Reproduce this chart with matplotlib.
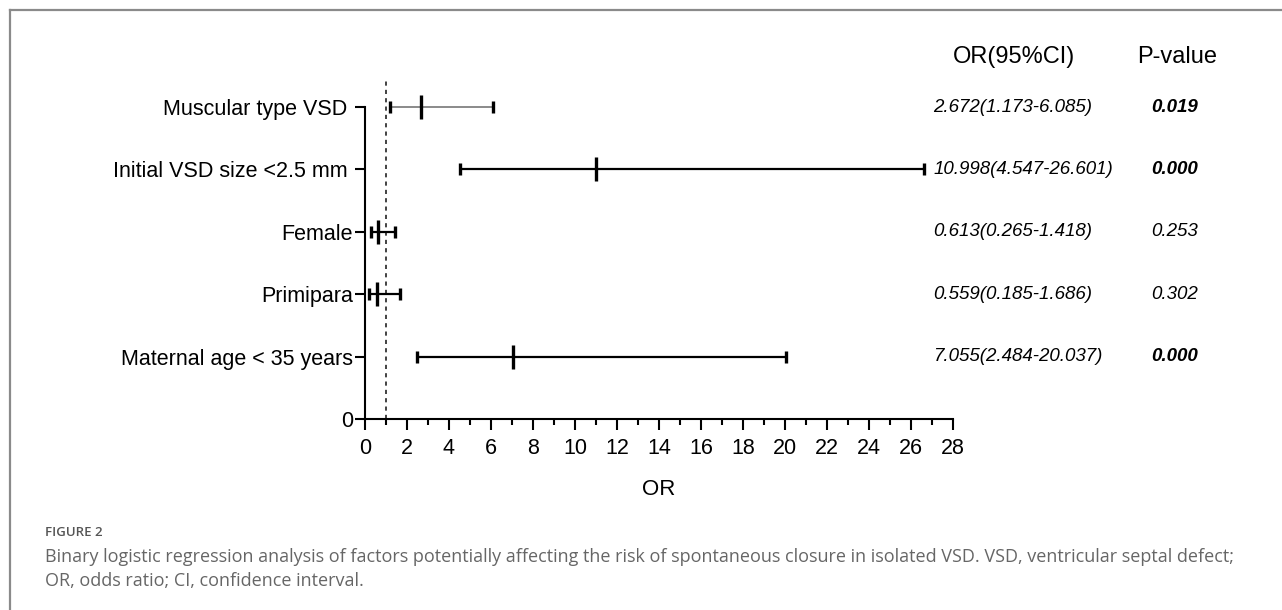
import matplotlib
matplotlib.use("Agg")
import matplotlib.pyplot as plt
from matplotlib.lines import Line2D
from matplotlib.transforms import blended_transform_factory

plt.rcParams['font.family'] = ['Liberation Sans', 'DejaVu Sans']

# data, top row first
labels = ["Muscular type VSD ", "Initial VSD size <2.5 mm ", "Female",
          "Primipara", "Maternal age < 35 years"]
odds = [2.672, 10.998, 0.613, 0.559, 7.055]
lower = [1.173, 4.547, 0.265, 0.185, 2.484]
upper = [6.085, 26.601, 1.418, 1.686, 20.037]
p_text = ["0.019", "0.000", "0.253", "0.302", "0.000"]
p_bold = [True, True, False, False, True]
ci_text = ["2.672(1.173-6.085)", "10.998(4.547-26.601)", "0.613(0.265-1.418)",
           "0.559(0.185-1.686)", "7.055(2.484-20.037)"]
rows = [5, 4, 3, 2, 1]

fig = plt.figure(figsize=(12.82, 6.10), dpi=100)
ax = fig.add_axes([0.2847, 0.3131, 0.4587, 0.5574])

for i in range(len(rows)):
    y = rows[i]
    col = "#777777" if i == 0 else "black"
    lw = 1.2 if i == 0 else 1.6
    ax.hlines(y, lower[i], upper[i], color=col, linewidth=lw, zorder=3)
    ax.plot([lower[i], upper[i]], [y, y], linestyle="none", marker="|",
            markersize=9, markeredgewidth=2.4, color="black", zorder=4)
    ax.plot([odds[i]], [y], linestyle="none", marker="|",
            markersize=17, markeredgewidth=2.4, color="black", zorder=4)

ax.vlines(1, 0, 5.45, colors="#222222", linestyles=(0, (2.5, 2.5)), linewidth=1.2)

ax.set_xlim(0, 28)
ax.set_ylim(0, 5.45)
ax.set_xticks(range(0, 29, 2))
ax.set_xticks(range(1, 28, 2), minor=True)
ax.set_yticks([0] + rows)
ax.set_yticklabels(["0"] + labels)
ax.tick_params(axis="x", which="major", length=8, width=1.5, labelsize=15.5, pad=6)
ax.tick_params(axis="x", which="minor", length=4.5, width=1.5)
ax.tick_params(axis="y", length=7.5, width=1.5, labelsize=15.5, pad=1)
ax.set_xlabel("OR", fontsize=16, labelpad=14)

for s in ["top", "right"]:
    ax.spines[s].set_visible(False)
for s in ["left", "bottom"]:
    ax.spines[s].set_linewidth(1.5)
ax.spines["left"].set_bounds(0, 5)
ax.patch.set_alpha(0)

# table on the right
tr = blended_transform_factory(fig.transFigure, ax.transData)
ax.text(0.791, 5.8, "OR(95%CI)", transform=tr, ha="center", va="center",
        fontsize=17, clip_on=False)
ax.text(0.918, 5.8, "P-value", transform=tr, ha="center", va="center",
        fontsize=17, clip_on=False)
for i in range(len(rows)):
    ax.text(0.7278, rows[i], ci_text[i], transform=tr, ha="left", va="center",
            fontsize=13.5, style="italic", clip_on=False)
    ax.text(0.9165, rows[i], p_text[i], transform=tr, ha="center", va="center",
            fontsize=13.5, style="italic",
            weight="bold" if p_bold[i] else "normal", clip_on=False)

# panel frame and caption
fig.add_artist(Line2D([10 / 1282, 1], [600 / 610, 600 / 610], color="#8a8a8a",
                      linewidth=1.6, transform=fig.transFigure))
fig.add_artist(Line2D([10 / 1282, 10 / 1282], [0, 600 / 610], color="#8a8a8a",
                      linewidth=1.6, transform=fig.transFigure))

fig.text(45 / 1282, 1 - 533 / 610, "FIGURE 2", fontsize=9.5, color="#555555",
         family="Open Sans", weight="semibold", va="center")
fig.text(45 / 1282, 1 - 557 / 610,
         "Binary logistic regression analysis of factors potentially affecting the risk of "
         "spontaneous closure in isolated VSD. VSD, ventricular septal defect;",
         fontsize=13, color="#666666", family="Open Sans", va="center")
fig.text(45 / 1282, 1 - 581 / 610, "OR, odds ratio; CI, confidence interval.",
         fontsize=13, color="#666666", family="Open Sans", va="center")

fig.savefig("out.png", dpi=100)
